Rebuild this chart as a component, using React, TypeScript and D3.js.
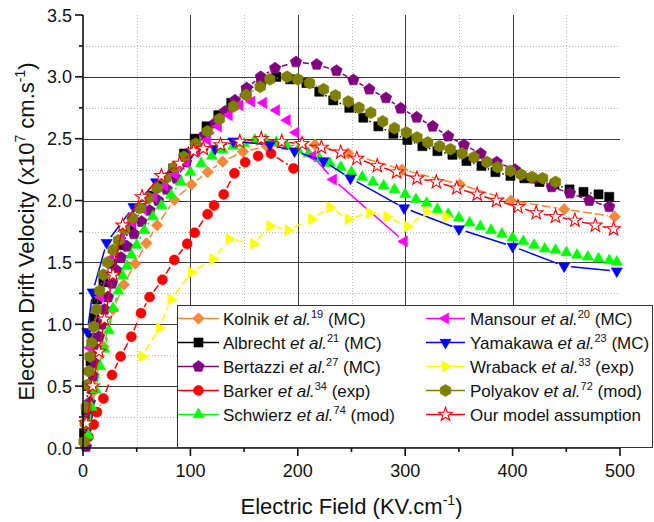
import React from 'react';
import * as d3 from 'd3';

const W = 654;
const H = 522;
const PLOT = { left: 83, right: 620, top: 15, bottom: 448 };
const FONT = '"Liberation Sans", Arial, Helvetica, sans-serif';

// ---- data (electric field in kV/cm, drift velocity in 1e7 cm/s) ----
const kolnikX = [9, 19, 28, 38, 48.5, 59, 69, 85, 101, 116, 130, 149, 171, 216, 247, 297, 351, 398.5, 448, 495];
const kolnikV = [0.45, 0.82, 1.12, 1.32, 1.49, 1.655, 1.8, 2.005, 2.13, 2.23, 2.315, 2.395, 2.44, 2.45, 2.38, 2.25, 2.13, 2.0, 1.93, 1.87];

const albrechtX = [1, 3, 5, 7, 9, 10.5, 13, 19, 27, 36, 45, 54, 64, 74, 84, 94, 104, 115, 126, 138, 152, 166, 180, 193, 208, 220, 233, 248, 261, 275, 289, 302, 316, 330, 344, 357, 371, 384, 398, 411, 425, 439, 453, 466, 480, 490];
const albrechtV = [0.12, 0.3, 0.5, 0.7, 0.89, 1.05, 1.2, 1.34, 1.49, 1.64, 1.79, 1.94, 2.04, 2.14, 2.26, 2.38, 2.5, 2.6, 2.69, 2.79, 2.88, 2.96, 3.0, 2.98, 2.95, 2.88, 2.81, 2.75, 2.67, 2.6, 2.54, 2.49, 2.44, 2.4, 2.37, 2.32, 2.28, 2.23, 2.2, 2.18, 2.15, 2.13, 2.09, 2.07, 2.05, 2.03];

const bertazziX = [2.8, 4, 4.9, 6.5, 8.1, 9.6, 11.2, 12.8, 14.9, 17.4, 20, 23.3, 27, 31.2, 35.4, 41, 47.5, 54.5, 62, 70, 78, 87, 96, 106, 113.6, 122.9, 132.2, 141.5, 152.4, 165.5, 178.8, 198.3, 217.6, 236, 251.7, 266.6, 282.1, 295.8, 310.7, 325.6, 340.1, 354.7, 370.3, 385.2, 402.2, 419.3, 436.4, 453.4, 471.4, 490];
const bertazziV = [0.01, 0.17, 0.27, 0.37, 0.48, 0.58, 0.685, 0.8, 0.9, 1.0, 1.12, 1.22, 1.33, 1.435, 1.54, 1.63, 1.73, 1.83, 1.92, 2.0, 2.09, 2.18, 2.31, 2.44, 2.53, 2.625, 2.72, 2.81, 2.91, 3.0, 3.07, 3.12, 3.1, 3.05, 2.975, 2.9, 2.83, 2.746, 2.673, 2.6, 2.52, 2.45, 2.38, 2.31, 2.25, 2.18, 2.11, 2.06, 2.0, 1.95];

const barkerX = [5, 10, 13, 19, 27, 35, 45, 54, 62, 74, 85, 97, 104, 116, 122, 131, 141, 151, 163, 175, 196];
const barkerV = [0.09, 0.19, 0.29, 0.4, 0.59, 0.74, 0.9, 1.09, 1.22, 1.36, 1.52, 1.65, 1.74, 1.89, 1.96, 2.05, 2.22, 2.31, 2.36, 2.38, 2.26];

const schwierzX = [5, 8, 12, 16, 20, 24, 28, 33, 37, 41, 45, 50, 57, 65, 73, 82, 91, 100, 110, 120, 130, 140, 150, 160, 170, 180, 190, 200, 210, 220, 230, 240, 250, 260, 270, 280, 290, 300, 310, 320, 330, 340, 350, 360, 370, 380, 390, 400, 410, 420, 430, 440, 450, 460, 470, 480, 490, 497];
const schwierzV = [0.1, 0.33, 0.47, 0.66, 0.8, 0.95, 1.13, 1.27, 1.39, 1.47, 1.56, 1.64, 1.76, 1.87, 1.96, 2.045, 2.15, 2.23, 2.3, 2.36, 2.41, 2.44, 2.46, 2.49, 2.49, 2.47, 2.44, 2.41, 2.38, 2.34, 2.3, 2.27, 2.23, 2.19, 2.15, 2.12, 2.09, 2.05, 2.01, 1.98, 1.93, 1.89, 1.86, 1.82, 1.79, 1.76, 1.73, 1.7, 1.67, 1.64, 1.61, 1.6, 1.58, 1.56, 1.545, 1.53, 1.515, 1.505];

const mansourX = [6.5, 16, 26, 36, 46, 56, 66, 76, 86, 96, 106, 116, 126, 136, 146, 157, 168, 180, 190, 198, 214, 233, 299];
const mansourV = [0.81, 1.22, 1.53, 1.7, 1.82, 1.93, 2.03, 2.12, 2.21, 2.31, 2.4, 2.49, 2.6, 2.69, 2.77, 2.8, 2.79, 2.73, 2.65, 2.55, 2.36, 2.17, 1.67];

const yamakawaX = [4, 9, 22, 47, 68, 101, 123, 140, 174, 197, 224, 249, 299, 350, 400, 448, 497];
const yamakawaV = [0.94, 1.26, 1.66, 1.95, 2.15, 2.39, 2.42, 2.48, 2.45, 2.4, 2.32, 2.18, 1.94, 1.77, 1.63, 1.47, 1.43];

const wrabackX = [55, 71, 82, 101, 121, 136, 159, 174, 191, 213, 230, 247, 267, 283, 302, 320, 338];
const wrabackV = [0.74, 0.97, 1.2, 1.42, 1.525, 1.69, 1.65, 1.795, 1.76, 1.85, 1.945, 1.85, 1.9, 1.87, 1.79, 1.91, 1.87];

const polyakovX = [1, 2, 3, 4, 5.5, 6.5, 8, 10, 12.4, 15.5, 19, 23, 28, 33, 39, 46, 53, 61, 69, 77, 85, 94, 105, 116, 127, 140, 152, 165, 174, 190, 200, 211, 224, 235, 247, 257, 268, 279, 290, 301, 311, 321, 332, 342, 353, 364, 376, 386, 398, 408, 418, 428, 440];
const polyakovV = [0.05, 0.2, 0.33, 0.51, 0.62, 0.74, 0.85, 0.98, 1.12, 1.27, 1.4, 1.5, 1.6, 1.68, 1.77, 1.86, 1.94, 2.02, 2.1, 2.18, 2.27, 2.355, 2.46, 2.56, 2.66, 2.76, 2.854, 2.92, 2.98, 3.0, 2.98, 2.95, 2.9, 2.85, 2.8, 2.75, 2.71, 2.64, 2.585, 2.55, 2.51, 2.47, 2.44, 2.415, 2.38, 2.35, 2.31, 2.27, 2.24, 2.21, 2.19, 2.18, 2.15];

const modelX = [3, 9, 15, 20, 28, 37, 55, 73, 90, 103, 112, 128, 146, 166, 185, 204, 222, 240, 255, 274, 292, 311, 329, 348, 367, 385, 405, 422, 440, 458, 477, 494];
const modelV = [0.2, 0.5, 0.78, 1.04, 1.4, 1.8, 2.03, 2.2, 2.3, 2.4, 2.42, 2.45, 2.476, 2.5, 2.476, 2.46, 2.43, 2.39, 2.34, 2.28, 2.23, 2.18, 2.15, 2.1, 2.05, 2.0, 1.95, 1.9, 1.87, 1.84, 1.8, 1.77];

// ---- axes ----
const xMajorTicks = [0, 100, 200, 300, 400, 500];
const xMinorTicks = [50, 150, 250, 350, 450];
const yMajorTicks = [0, 0.5, 1.0, 1.5, 2.0, 2.5, 3.0, 3.5];
const yMinorTicks = [0.25, 0.75, 1.25, 1.75, 2.25, 2.75, 3.25];
const yTickLabels = ['0.0', '0.5', '1.0', '1.5', '2.0', '2.5', '3.0', '3.5'];

// ---- legend text ----
const legendNames = ['Kolnik', 'Albrecht', 'Bertazzi', 'Barker', 'Schwierz', 'Mansour', 'Yamakawa', 'Wraback', 'Polyakov', 'Our model assumption'];
const legendRefs = ['19', '21', '27', '34', '74', '20', '23', '33', '72', ''];
const legendTags = ['MC', 'MC', 'MC', 'exp', 'mod', 'MC', 'MC', 'exp', 'mod', ''];

type Shape = 'diamond' | 'square' | 'pentagon' | 'circle' | 'triUp' | 'triLeft' | 'triDown' | 'triRight' | 'hexagon' | 'star';

interface Series {
  xs: number[];
  vs: number[];
  color: string;
  shape: Shape;
  dash: string | null;
  openMarker?: boolean;
}

const series: Series[] = [
  { xs: kolnikX, vs: kolnikV, color: '#F5873A', shape: 'diamond', dash: '9,3' },
  { xs: albrechtX, vs: albrechtV, color: '#000000', shape: 'square', dash: '1.5,2' },
  { xs: bertazziX, vs: bertazziV, color: '#800080', shape: 'pentagon', dash: '6,4' },
  { xs: barkerX, vs: barkerV, color: '#FF0000', shape: 'circle', dash: '8,3,2,3' },
  { xs: schwierzX, vs: schwierzV, color: '#00FF00', shape: 'triUp', dash: null },
  { xs: mansourX, vs: mansourV, color: '#FF00FF', shape: 'triLeft', dash: null },
  { xs: yamakawaX, vs: yamakawaV, color: '#0000FF', shape: 'triDown', dash: null },
  { xs: wrabackX, vs: wrabackV, color: '#FFFF00', shape: 'triRight', dash: '8,4' },
  { xs: polyakovX, vs: polyakovV, color: '#808000', shape: 'hexagon', dash: '1.5,2' },
  { xs: modelX, vs: modelV, color: '#FF0000', shape: 'star', dash: null, openMarker: true },
];

const xScale = d3.scaleLinear().domain([0, 500]).range([PLOT.left, PLOT.right]);
const yScale = d3.scaleLinear().domain([0, 3.5]).range([PLOT.bottom, PLOT.top]);

function polygon(n: number, R: number, rot: number): string {
  const pts: string[] = [];
  for (let k = 0; k < n; k++) {
    const a = rot + (2 * Math.PI * k) / n;
    pts.push(`${(R * Math.sin(a)).toFixed(2)},${(-R * Math.cos(a)).toFixed(2)}`);
  }
  return 'M' + pts.join('L') + 'Z';
}

function starPath(Ro: number, Ri: number): string {
  const pts: string[] = [];
  for (let k = 0; k < 10; k++) {
    const a = (Math.PI * k) / 5;
    const r = k % 2 === 0 ? Ro : Ri;
    pts.push(`${(r * Math.sin(a)).toFixed(2)},${(-r * Math.cos(a)).toFixed(2)}`);
  }
  return 'M' + pts.join('L') + 'Z';
}

function markerPath(shape: Shape): string {
  switch (shape) {
    case 'diamond': return polygon(4, 5.8, 0);
    case 'square': return polygon(4, 6.4, Math.PI / 4);
    case 'pentagon': return polygon(5, 6.0, 0);
    case 'circle': return 'M5,0A5,5 0 1 1 -5,0A5,5 0 1 1 5,0Z';
    case 'triUp': return polygon(3, 6.4, 0);
    case 'triDown': return polygon(3, 6.4, Math.PI);
    case 'triLeft': return polygon(3, 6.4, -Math.PI / 2);
    case 'triRight': return polygon(3, 6.4, Math.PI / 2);
    case 'hexagon': return polygon(6, 6.0, 0);
    case 'star': return starPath(7.2, 2.9);
  }
}

// Connecting line with a small gap left open around each symbol
function gappedPath(pts: [number, number][], gap: number): string {
  let d = '';
  for (let i = 0; i < pts.length - 1; i++) {
    const [x0, y0] = pts[i];
    const [x1, y1] = pts[i + 1];
    const dx = x1 - x0;
    const dy = y1 - y0;
    const len = Math.hypot(dx, dy);
    if (len <= 2 * gap + 1) continue;
    const ux = dx / len;
    const uy = dy / len;
    d += `M${(x0 + ux * gap).toFixed(2)},${(y0 + uy * gap).toFixed(2)}L${(x1 - ux * gap).toFixed(2)},${(y1 - uy * gap).toFixed(2)}`;
  }
  return d;
}

function LegendLabel({ i, x, y }: { i: number; x: number; y: number }) {
  const name = legendNames[i];
  const ref = legendRefs[i];
  const tag = legendTags[i];
  if (!ref) {
    return (
      <text x={x} y={y} fontSize={17} fontFamily={FONT} fill="#111">{name}</text>
    );
  }
  return (
    <text x={x} y={y} fontSize={17} fontFamily={FONT} fill="#111">
      <tspan>{name} </tspan>
      <tspan fontStyle="italic">et al.</tspan>
      <tspan fontSize={11} dy={-7}>{ref}</tspan>
      <tspan dy={7}> ({tag})</tspan>
    </text>
  );
}

export default function App() {
  const legendBox = { x: 177.5, y: 305.5, w: 475, h: 142 };
  const rowY = (r: number) => 318.5 + r * 24;

  return (
    <svg
      width={W}
      height={H}
      viewBox={`0 0 ${W} ${H}`}
      style={{ position: 'absolute', left: 0, top: 0, background: '#fff' }}
    >
      <rect x={0} y={0} width={W} height={H} fill="#fff" />

      {/* minor grid */}
      <g stroke="#b8b8b8" strokeWidth={1} strokeDasharray="1,2">
        {xMinorTicks.map((t) => (
          <line key={'gx' + t} x1={Math.round(xScale(t)) + 0.5} x2={Math.round(xScale(t)) + 0.5} y1={PLOT.top} y2={PLOT.bottom} />
        ))}
        {yMinorTicks.map((t) => (
          <line key={'gy' + t} x1={PLOT.left} x2={PLOT.right} y1={Math.round(yScale(t)) + 0.5} y2={Math.round(yScale(t)) + 0.5} />
        ))}
      </g>

      {/* major grid */}
      <g stroke="#3a3a3a" strokeWidth={1}>
        {xMajorTicks.slice(1, -1).map((t) => (
          <line key={'Gx' + t} x1={Math.round(xScale(t)) + 0.5} x2={Math.round(xScale(t)) + 0.5} y1={PLOT.top} y2={PLOT.bottom} />
        ))}
        {yMajorTicks.slice(1, -1).map((t) => (
          <line key={'Gy' + t} x1={PLOT.left} x2={PLOT.right} y1={Math.round(yScale(t)) + 0.5} y2={Math.round(yScale(t)) + 0.5} />
        ))}
      </g>

      {/* series */}
      {series.map((s, si) => {
        const pts: [number, number][] = s.xs.map((x, i) => [xScale(x), yScale(s.vs[i])]);
        const gap = s.shape === 'star' ? 7.5 : 7;
        const mp = markerPath(s.shape);
        return (
          <g key={'s' + si}>
            <path
              d={gappedPath(pts, gap)}
              fill="none"
              stroke={s.color}
              strokeWidth={1.5}
              strokeDasharray={s.dash ?? undefined}
            />
            {pts.map(([px, py], i) => (
              <path
                key={i}
                d={mp}
                transform={`translate(${px.toFixed(2)},${py.toFixed(2)})`}
                fill={s.openMarker ? '#fff' : s.color}
                stroke={s.color}
                strokeWidth={s.openMarker ? 1.1 : 0.6}
              />
            ))}
          </g>
        );
      })}

      {/* axes */}
      <g stroke="#111" strokeWidth={1.6} fill="none">
        <line x1={PLOT.left} x2={PLOT.left} y1={PLOT.top} y2={PLOT.bottom} />
        <line x1={PLOT.left} x2={PLOT.right} y1={PLOT.bottom} y2={PLOT.bottom} />
        {yMajorTicks.map((t) => (
          <line key={'ty' + t} x1={PLOT.left - 8} x2={PLOT.left} y1={yScale(t)} y2={yScale(t)} />
        ))}
        {yMinorTicks.map((t) => (
          <line key={'tym' + t} x1={PLOT.left - 4} x2={PLOT.left} y1={yScale(t)} y2={yScale(t)} />
        ))}
        {xMajorTicks.map((t) => (
          <line key={'tx' + t} x1={xScale(t)} x2={xScale(t)} y1={PLOT.bottom} y2={PLOT.bottom + 8} />
        ))}
        {xMinorTicks.map((t) => (
          <line key={'txm' + t} x1={xScale(t)} x2={xScale(t)} y1={PLOT.bottom} y2={PLOT.bottom + 4} />
        ))}
      </g>

      {/* tick labels */}
      <g fontFamily={FONT} fontSize={18} fill="#111">
        {yMajorTicks.map((t, i) => (
          <text key={'ly' + t} x={PLOT.left - 11} y={yScale(t) + 6.5} textAnchor="end">{yTickLabels[i]}</text>
        ))}
        {xMajorTicks.map((t) => (
          <text key={'lx' + t} x={xScale(t)} y={PLOT.bottom + 29} textAnchor="middle">{t}</text>
        ))}
      </g>

      {/* axis titles */}
      <text x={(PLOT.left + PLOT.right) / 2} y={514} textAnchor="middle" fontFamily={FONT} fontSize={22} fill="#111">
        <tspan>Electric Field (KV.cm</tspan>
        <tspan fontSize={14} dy={-9}>-1</tspan>
        <tspan dy={9}>)</tspan>
      </text>
      <text
        transform={`translate(34,${(PLOT.top + PLOT.bottom) / 2}) rotate(-90)`}
        textAnchor="middle"
        fontFamily={FONT}
        fontSize={22}
        fill="#111"
      >
        <tspan>Electron Drift Velocity (x10</tspan>
        <tspan fontSize={14} dy={-9}>7</tspan>
        <tspan dy={9}> cm.s</tspan>
        <tspan fontSize={14} dy={-9}>-1</tspan>
        <tspan dy={9}>)</tspan>
      </text>

      {/* legend */}
      <rect x={legendBox.x} y={legendBox.y} width={legendBox.w} height={legendBox.h} fill="#fff" stroke="#333" strokeWidth={1} />
      {series.map((s, i) => {
        const col = i < 5 ? 0 : 1;
        const row = i % 5;
        const y = rowY(row);
        const x0 = col === 0 ? 178 : 426;
        const x1 = col === 0 ? 219 : 465;
        const xm = (x0 + x1) / 2;
        const tx = col === 0 ? 223 : 470;
        return (
          <g key={'lg' + i}>
            <line x1={x0} x2={x1} y1={y} y2={y} stroke={s.color} strokeWidth={1.5} />
            <path
              d={markerPath(s.shape)}
              transform={`translate(${xm},${y})`}
              fill={s.openMarker ? '#fff' : s.color}
              stroke={s.color}
              strokeWidth={s.openMarker ? 1.1 : 0.6}
            />
            <LegendLabel i={i} x={tx} y={y + 6} />
          </g>
        );
      })}
    </svg>
  );
}
